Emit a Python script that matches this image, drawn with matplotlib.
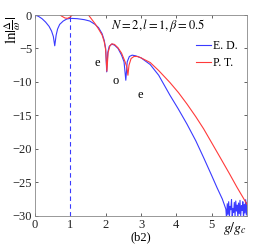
import numpy as np
import matplotlib
matplotlib.use('Agg')
import matplotlib.pyplot as plt

plt.rcParams['font.family'] = ['Liberation Serif', 'DejaVu Serif']
plt.rcParams['mathtext.fontset'] = 'stix'

# E. D. (exact diagonalization) curve
ed_x = [0.0, 0.1, 0.2, 0.3, 0.4, 0.47, 0.52, 0.56, 0.6, 0.64, 0.7, 0.8, 0.9,
        1.0, 1.2, 1.4, 1.55, 1.7, 1.8, 1.9, 1.96, 2.0, 2.03, 2.06, 2.1, 2.17,
        2.25, 2.35, 2.45, 2.52, 2.57, 2.61, 2.67, 2.75, 2.85, 3.0, 3.26, 3.5,
        3.82, 4.05, 4.3, 4.55, 4.77, 5.0, 5.15, 5.3, 5.4,
        5.42, 5.44, 5.46, 5.48, 5.5, 5.52, 5.54, 5.56, 5.58, 5.6, 5.62, 5.64,
        5.66, 5.68, 5.7, 5.72, 5.74, 5.76, 5.78, 5.8, 5.82, 5.84, 5.86, 5.88,
        5.9, 5.92, 5.94, 5.96, 5.98, 6.0]
ed_y = [0.0, -0.2, -0.55, -1.05, -1.7, -2.4, -3.2, -4.6, -3.0, -2.1, -1.4, -0.9, -0.6,
        -0.5, -0.55, -0.7, -0.9, -1.4, -1.9, -2.8, -3.8, -5.0, -8.5, -5.6, -4.7, -4.35,
        -4.5, -5.0, -6.0, -7.0, -9.75, -7.0, -6.2, -6.0, -6.1, -6.4, -7.4, -9.0,
        -12.0, -14.0, -16.3, -18.8, -21.3, -24.0, -25.8, -27.5, -29.0,
        -30.5, -28.2, -29.8, -27.9, -30.2, -28.6, -29.1, -27.6, -30.4, -28.9, -29.5, -28.0,
        -30.1, -27.8, -29.3, -28.4, -30.3, -28.1, -29.7, -27.7, -30.0, -28.5, -29.2, -27.9,
        -30.4, -28.3, -29.6, -27.6, -29.9, -28.0]

# P. T. (perturbation theory) curve
pt_x = [0.62, 0.68, 0.75, 0.85, 0.92, 1.0, 1.06, 1.15, 1.25, 1.4, 1.5, 1.6,
        1.7, 1.8, 1.9, 1.96, 2.0, 2.035, 2.07, 2.12, 2.18, 2.25, 2.35, 2.45,
        2.55, 2.6, 2.63, 2.66, 2.72, 2.8, 2.9, 3.0, 3.26, 3.5, 3.82, 4.06,
        4.3, 4.55, 4.77, 5.0, 5.24, 5.5, 5.71, 6.0]
pt_y = [0.8, 0.2, -0.15, -0.45, -0.5, -0.3, 0.05, 0.5, 1.0, 0.8, 0.1, -0.6,
        -1.3, -2.1, -3.0, -4.0, -5.2, -8.4, -5.6, -4.6, -4.3, -4.4, -4.9, -5.7,
        -7.0, -7.8, -9.0, -7.5, -6.5, -6.2, -6.2, -6.4, -7.1, -8.3, -10.1, -11.6,
        -13.3, -15.2, -17.0, -19.1, -21.3, -23.7, -25.7, -28.3]

parity_labels = [(1.75, -7.2, 'e'), (2.29, -9.9, 'o'), (2.97, -12.0, 'e')]

blue = '#3a3aff'
red = '#ff3a3a'

fig = plt.figure(figsize=(2.73, 2.46), dpi=100)
ax = fig.add_axes([0.128, 0.123, 0.777, 0.816])

ax.plot(ed_x, ed_y, color=blue, lw=0.8, label='E. D.')
ax.plot(pt_x, pt_y, color=red, lw=0.8, label='P. T.')
ax.axvline(1.0, color=blue, lw=0.8, ls=(0, (4, 3)))

for x, y, s in parity_labels:
    ax.text(x, y, s, fontsize=9, ha='center', va='center')

ax.text(2.15, -1.5, r'$N=2, l=1, \beta=0.5$', fontsize=9, ha='left', va='center')

ax.set_xlim(0, 6)
ax.set_ylim(-30, 0)
ax.set_xticks([0, 1, 2, 3, 4, 5])
ax.set_yticks([0, -5, -10, -15, -20, -25, -30])
ax.tick_params(direction='in', top=True, right=True, length=2.5, width=0.5,
               labelsize=9, colors='#222222', pad=2)
for s in ax.spines.values():
    s.set_color('#888888')
    s.set_linewidth(0.6)

leg = ax.legend(loc='upper right', bbox_to_anchor=(0.99, 0.91), frameon=False,
                fontsize=8.5, handlelength=1.3, handletextpad=0.15, labelspacing=0.45,
                borderaxespad=0.2)

fig.text(0.862, 0.073, r'$g/g_c$', fontsize=10, ha='center', va='center')
fig.text(0.516, 0.036, '(b2)', fontsize=9, ha='center', va='center')
fig.text(0.045, 0.88, r'$\ln|\frac{\Delta}{\omega}|$', fontsize=11, rotation=90,
         ha='center', va='center')

fig.savefig('out.png', dpi=100)
